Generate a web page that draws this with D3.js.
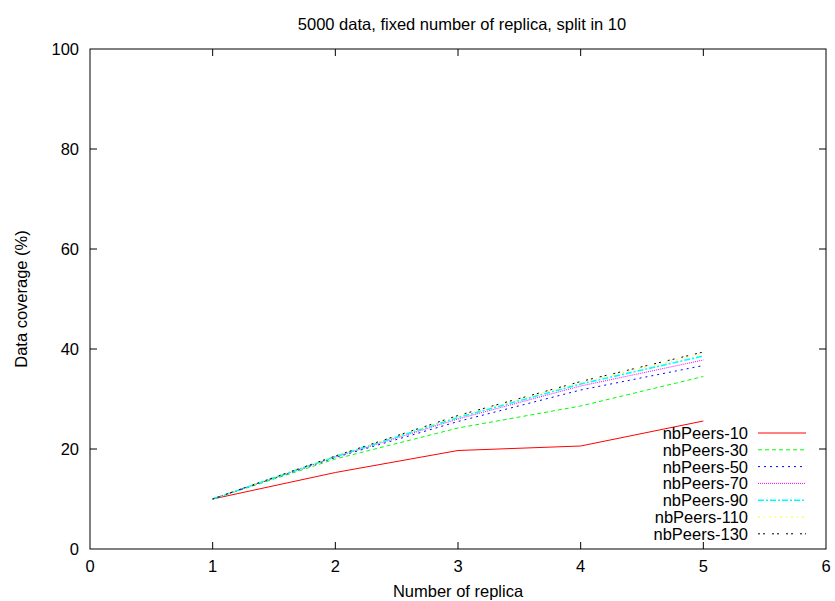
<!DOCTYPE html>
<html>
<head>
<meta charset="utf-8">
<script src="https://cdn.jsdelivr.net/npm/d3@7"></script>
<style>
  html, body { margin: 0; padding: 0; background: #fff; }
  svg text { font-family: "Liberation Sans", Arial, sans-serif; fill: #000; }
</style>
</head>
<body>
<svg id="chart" width="835" height="601"></svg>
<script>
// Number of replicas on the x axis
const replicas = [1, 2, 3, 4, 5];

// Data coverage (%) per network size
const nbPeers10  = [10, 15.3, 19.7, 20.6, 25.6];
const nbPeers30  = [10, 18.0, 24.2, 28.6, 34.5];
const nbPeers50  = [10, 18.3, 25.5, 31.8, 36.7];
const nbPeers70  = [10, 18.4, 26.0, 32.6, 37.8];
const nbPeers90  = [10, 18.5, 26.3, 33.0, 38.6];
const nbPeers110 = [10, 18.6, 26.5, 33.3, 39.1];
const nbPeers130 = [10, 18.6, 26.7, 33.5, 39.4];

const seriesNames = ["nbPeers-10", "nbPeers-30", "nbPeers-50", "nbPeers-70",
                     "nbPeers-90", "nbPeers-110", "nbPeers-130"];
const seriesValues = [nbPeers10, nbPeers30, nbPeers50, nbPeers70,
                      nbPeers90, nbPeers110, nbPeers130];

const xTicks = [0, 1, 2, 3, 4, 5, 6];
const yTicks = [0, 20, 40, 60, 80, 100];

const titleText = "5000 data, fixed number of replica, split in 10";
const xLabel = "Number of replica";
const yLabel = "Data coverage (%)";

// Line styles, one per series
const styles = [
  { color: "#ff0000", dash: null,        width: 1 },
  { color: "#00ff00", dash: "4,3",       width: 1 },
  { color: "#0000ff", dash: "2,4",       width: 1 },
  { color: "#ff00ff", dash: "1,1",       width: 1 },
  { color: "#00ffff", dash: "6,2,2,2",   width: 1.6 },
  { color: "#ffff00", dash: "2,4,1,4",   width: 1 },
  { color: "#000000", dash: "2,3,2,7",   width: 1 }
];

const svg = d3.select("#chart");
const plotLeft = 90, plotRight = 826, plotTop = 49, plotBottom = 549;
const fontSize = 16.5;

const x = d3.scaleLinear().domain([0, 6]).range([plotLeft, plotRight]);
const y = d3.scaleLinear().domain([0, 100]).range([plotBottom, plotTop]);

// Frame
svg.append("rect")
  .attr("x", plotLeft).attr("y", plotTop)
  .attr("width", plotRight - plotLeft).attr("height", plotBottom - plotTop)
  .attr("fill", "none").attr("stroke", "#000").attr("stroke-width", 1);

const tickLen = 7;
const axisG = svg.append("g").attr("stroke", "#000").attr("stroke-width", 1);

// Inward ticks on all four sides
xTicks.forEach(t => {
  if (t === 0 || t === 6) return;
  axisG.append("line").attr("x1", x(t)).attr("x2", x(t)).attr("y1", plotBottom).attr("y2", plotBottom - tickLen);
  axisG.append("line").attr("x1", x(t)).attr("x2", x(t)).attr("y1", plotTop).attr("y2", plotTop + tickLen);
});
yTicks.forEach(t => {
  if (t === 0 || t === 100) return;
  axisG.append("line").attr("x1", plotLeft).attr("x2", plotLeft + tickLen).attr("y1", y(t)).attr("y2", y(t));
  axisG.append("line").attr("x1", plotRight).attr("x2", plotRight - tickLen).attr("y1", y(t)).attr("y2", y(t));
});

// Tick labels
svg.append("g").selectAll("text").data(xTicks).join("text")
  .attr("x", d => x(d)).attr("y", plotBottom + 23)
  .attr("text-anchor", "middle").attr("font-size", fontSize)
  .text(d => d);
svg.append("g").selectAll("text").data(yTicks).join("text")
  .attr("x", plotLeft - 11).attr("y", d => y(d) + 5.5)
  .attr("text-anchor", "end").attr("font-size", fontSize)
  .text(d => d);

// Title and axis labels
svg.append("text").attr("x", 462).attr("y", 30)
  .attr("text-anchor", "middle").attr("font-size", fontSize).text(titleText);
svg.append("text").attr("x", 458).attr("y", 597)
  .attr("text-anchor", "middle").attr("font-size", fontSize).text(xLabel);
svg.append("text")
  .attr("transform", "translate(27,299) rotate(-90)")
  .attr("text-anchor", "middle").attr("font-size", fontSize).text(yLabel);

// Series lines
const line = d3.line().x((d, i) => x(replicas[i])).y(d => y(d));
seriesValues.forEach((vals, i) => {
  const s = styles[i];
  svg.append("path")
    .datum(vals)
    .attr("d", line)
    .attr("fill", "none")
    .attr("stroke", s.color)
    .attr("stroke-width", s.width)
    .attr("stroke-dasharray", s.dash);
});

// Legend
const legend = svg.append("g");
seriesNames.forEach((name, i) => {
  const s = styles[i];
  const cy = 433 + i * 16.8;
  legend.append("text")
    .attr("x", 748).attr("y", cy + 6)
    .attr("text-anchor", "end").attr("font-size", fontSize)
    .text(name);
  legend.append("line")
    .attr("x1", 758).attr("x2", 806).attr("y1", cy).attr("y2", cy)
    .attr("stroke", s.color).attr("stroke-width", s.width)
    .attr("stroke-dasharray", s.dash);
});
</script>
</body>
</html>
